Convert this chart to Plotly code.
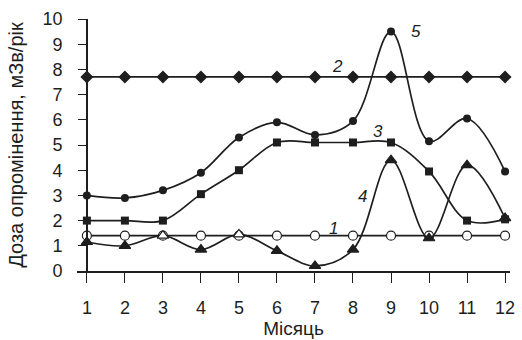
import plotly.graph_objects as go

months = list(range(1, 13))
s1 = [1.4] * 12
s2 = [7.7] * 12
s3 = [2.0, 2.0, 2.0, 3.05, 4.0, 5.1, 5.1, 5.1, 5.1, 3.95, 2.0, 2.05]
s4 = [1.15, 1.0, 1.4, 0.85, 1.45, 0.8, 0.2, 0.85, 4.4, 1.3, 4.2, 2.1]
s5 = [3.0, 2.9, 3.2, 3.9, 5.3, 5.9, 5.4, 5.95, 9.5, 5.15, 6.05, 3.95]

label_text = ["1", "2", "3", "4", "5"]
label_x = [7.5, 7.58, 8.65, 8.25, 9.65]
label_y = [1.7, 8.1, 5.55, 2.95, 9.5]

y_ticks = list(range(0, 11))
x_title = "Місяць"
y_title = "Доза опромінення, мЗв/рік"

INK = "#1e1e1e"
FONT = "Liberation Sans, Arial, sans-serif"

fig = go.Figure()

fig.add_trace(go.Scatter(
    x=months, y=s1, mode="lines+markers", line=dict(color=INK, width=1.7),
    marker=dict(symbol="circle", size=9, color="white", line=dict(color=INK, width=1.2)),
    cliponaxis=False, name="1"))
tri_fill = [INK, INK, "white", INK, "white", INK, INK, INK, INK, INK, INK, INK]
fig.add_trace(go.Scatter(
    x=months, y=s4, mode="lines+markers", line=dict(color=INK, width=1.7, shape="spline", smoothing=1.0),
    marker=dict(symbol="triangle-up", size=10, color=tri_fill, line=dict(color=INK, width=1.2)),
    cliponaxis=False, name="4"))
fig.add_trace(go.Scatter(
    x=months, y=s3, mode="lines+markers", line=dict(color=INK, width=1.7, shape="spline", smoothing=1.0),
    marker=dict(symbol="square", size=8, color=INK),
    cliponaxis=False, name="3"))
fig.add_trace(go.Scatter(
    x=months, y=s5, mode="lines+markers", line=dict(color=INK, width=1.7, shape="spline", smoothing=1.0),
    marker=dict(symbol="circle", size=8, color=INK),
    cliponaxis=False, name="5"))
fig.add_trace(go.Scatter(
    x=months, y=s2, mode="lines+markers", line=dict(color=INK, width=1.7),
    marker=dict(symbol="diamond", size=10, color=INK),
    cliponaxis=False, name="2"))

for t, xx, yy in zip(label_text, label_x, label_y):
    fig.add_annotation(x=xx, y=yy, text="<i>%s</i>" % t, showarrow=False,
                       font=dict(family=FONT, size=17, color=INK))

x_lo, x_hi = 0.74, 12.13
ypos = (1 - x_lo) / (x_hi - x_lo)

fig.update_layout(
    width=522, height=340,
    margin=dict(l=77, r=7, t=19, b=67),
    paper_bgcolor="white", plot_bgcolor="white",
    showlegend=False,
    font=dict(family=FONT, size=18, color=INK),
    xaxis=dict(range=[x_lo, x_hi], tickvals=months, ticks="outside", ticklen=10, tickwidth=1.3,
               tickcolor=INK, showline=True, linecolor=INK, linewidth=1.7, showgrid=False,
               zeroline=False, ticklabelstandoff=10, ticklabeloverflow="allow",
               title=dict(text=x_title, font=dict(size=19), standoff=1)),
    yaxis=dict(range=[0, 10], tickvals=y_ticks, ticks="outside", ticklen=8, tickwidth=1.3,
               tickcolor=INK, showline=True, linecolor=INK, linewidth=1.7, showgrid=False,
               zeroline=False, anchor="free", position=ypos, ticklabelstandoff=12,
               title=dict(text=y_title, font=dict(size=20), standoff=12)),
)

fig.write_html("out.html", config={"displayModeBar": False},
               post_script="document.body.style.margin='0';document.body.style.overflow='hidden';")
